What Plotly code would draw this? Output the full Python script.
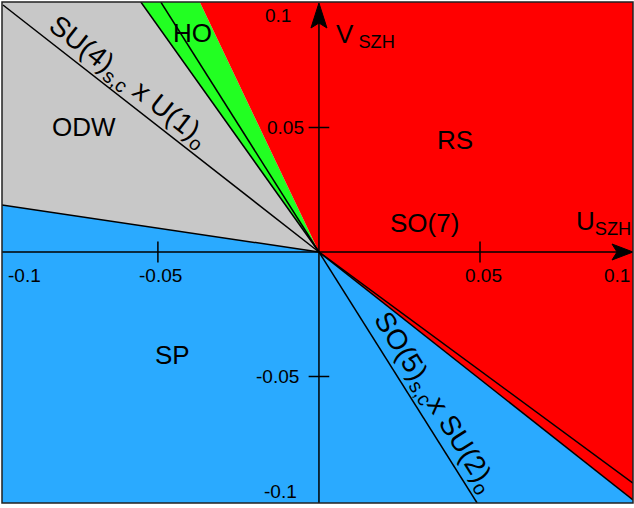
import plotly.graph_objects as go

# ---- data ----
X_RANGE = [-0.0984, 0.0975]
Y_RANGE = [-0.1008, 0.1004]

# phase regions (polygons in U_SZH, V_SZH)
odw_u = [0, -0.0984, -0.0984, -0.0553]
odw_v = [0, 0.0189, 0.1004, 0.1004]
ho_u = [0, -0.0553, -0.0370]
ho_v = [0, 0.1004, 0.1004]
rs_u = [0, -0.0370, 0.0975, 0.0975]
rs_v = [0, 0.1004, 0.1004, -0.0996]
sp_u = [0, 0.0975, 0.0975, -0.0984, -0.0984]
sp_v = [0, -0.0996, -0.1008, -0.1008, 0.0189]

region_names = ["ODW", "HO", "RS", "SP"]
region_u = [odw_u, ho_u, rs_u, sp_u]
region_v = [odw_v, ho_v, rs_v, sp_v]
region_colors = ["#c8c8c8", "#22ff22", "#ff0000", "#2aaaff"]

# black boundary lines: rays from the origin to these end points
line_end_u = [-0.0984, -0.0981, -0.0553, -0.0491, 0.0975, 0.0975, 0.0491]
line_end_v = [0.0189, 0.0992, 0.1004, 0.1004, -0.0928, -0.0996, -0.1008]

x_ticks = [-0.1, -0.05, 0.05, 0.1]
x_tick_labels = ["-0.1", "-0.05", "0.05", "0.1"]
y_ticks = [0.1, 0.05, -0.05, -0.1]
y_tick_labels = ["0.1", "0.05", "-0.05", "-0.1"]

# region labels
labels = ["RS", "SO(7)", "SP", "ODW", "HO"]
label_u = [0.0422, 0.0329, -0.0456, -0.0729, -0.0394]
label_v = [0.045, 0.0116, -0.0414, 0.0502, 0.088]

FONT = "Liberation Sans, Arial, sans-serif"

fig = go.Figure()

for name, u, v, c in zip(region_names, region_u, region_v, region_colors):
    fig.add_trace(go.Scatter(x=u, y=v, fill="toself", fillcolor=c, mode="lines",
                             line=dict(width=0, color=c), name=name,
                             hoverinfo="skip", showlegend=False))

for eu, ev in zip(line_end_u, line_end_v):
    fig.add_trace(go.Scatter(x=[0, eu], y=[0, ev], mode="lines",
                             line=dict(color="black", width=1.5),
                             hoverinfo="skip", showlegend=False))

shapes = []
# axis lines
shapes.append(dict(type="line", xref="x", yref="y", x0=X_RANGE[0], x1=X_RANGE[1] - 0.004,
                   y0=0, y1=0, line=dict(color="black", width=1.5)))
shapes.append(dict(type="line", xref="x", yref="y", x0=0, x1=0, y0=Y_RANGE[0],
                   y1=Y_RANGE[1] - 0.006, line=dict(color="black", width=1.5)))
# arrow heads (pixel-sized, anchored at axis ends)
shapes.append(dict(type="path", xref="x", yref="y", xsizemode="pixel", ysizemode="pixel",
                   xanchor=X_RANGE[1], yanchor=0,
                   path="M0,0 L-21,8 L-16,0 L-21,-8 Z",
                   fillcolor="black", line=dict(color="black", width=1)))
shapes.append(dict(type="path", xref="x", yref="y", xsizemode="pixel", ysizemode="pixel",
                   xanchor=0, yanchor=Y_RANGE[1],
                   path="M0,-1 L-8,-26 L0,-21 L8,-26 Z",
                   fillcolor="black", line=dict(color="black", width=1)))

tx = 0.0032
ty = 0.0042
for t in x_ticks:
    if X_RANGE[0] < t < X_RANGE[1]:
        shapes.append(dict(type="line", xref="x", yref="y", x0=t, x1=t, y0=-ty, y1=ty,
                           line=dict(color="black", width=1.5)))
for t in y_ticks:
    if abs(t) < 0.09:
        shapes.append(dict(type="line", xref="x", yref="y", x0=-tx, x1=tx, y0=t, y1=t,
                           line=dict(color="black", width=1.5)))
shapes.append(dict(type="rect", xref="paper", yref="paper", x0=0, x1=1, y0=0, y1=1,
                   line=dict(color="#222222", width=1.5)))
fig.update_layout(shapes=shapes)

tick_font = dict(family=FONT, size=19, color="black")
for t, lab in zip(x_ticks, x_tick_labels):
    if t < X_RANGE[0]:
        fig.add_annotation(x=X_RANGE[0], y=0, text=lab, showarrow=False, xanchor="left",
                           yanchor="middle", xshift=4, yshift=-23, font=tick_font)
    elif t > X_RANGE[1]:
        fig.add_annotation(x=X_RANGE[1], y=0, text=lab, showarrow=False, xanchor="right",
                           yanchor="middle", xshift=-1, yshift=-23, font=tick_font)
    else:
        fig.add_annotation(x=t, y=0, text=lab, showarrow=False, xanchor="center",
                           yanchor="middle", xshift=3, yshift=-23, font=tick_font)
y_shifts = [-12, 0, 0, 10]
y_xshifts = [-26, -13, -18, -20]
for t, lab, ys, xs in zip(y_ticks, y_tick_labels, y_shifts, y_xshifts):
    fig.add_annotation(x=0, y=t, text=lab, showarrow=False, xanchor="right",
                       yanchor="middle", xshift=xs, yshift=ys, font=tick_font)

big = dict(family=FONT, size=26, color="black")
for lab, u, v in zip(labels, label_u, label_v):
    fig.add_annotation(x=u, y=v, text=lab, showarrow=False, xanchor="center",
                       yanchor="middle", font=big)

fig.add_annotation(x=0.0146, y=0.0871, text="V<sub> SZH</sub>", showarrow=False,
                   xanchor="center", yanchor="middle", font=big)
fig.add_annotation(x=0.0882, y=0.012, text="U<sub>SZH</sub>", showarrow=False,
                   xanchor="center", yanchor="middle", font=big)
rot = dict(family=FONT, size=28, color="black")
fig.add_annotation(x=-0.0593, y=0.0679, text="SU(4)<sub>s,c</sub> x U(1)<sub>o</sub>",
                   showarrow=False, xanchor="center", yanchor="middle", textangle=38,
                   font=rot)
fig.add_annotation(x=0.0357, y=-0.0606, text="SO(5)<sub>s,c</sub>x SU(2)<sub>o</sub>",
                   showarrow=False, xanchor="center", yanchor="middle", textangle=58,
                   font=rot)

fig.update_layout(
    width=634, height=508,
    margin=dict(l=2, r=1, t=2, b=5),
    paper_bgcolor="white", plot_bgcolor="white",
    xaxis=dict(range=X_RANGE, visible=False, fixedrange=True),
    yaxis=dict(range=Y_RANGE, visible=False, fixedrange=True),
    showlegend=False,
)

fig.write_html("out.html", config={"staticPlot": True},
               post_script="document.body.style.margin='0';document.body.style.overflow='hidden';")
